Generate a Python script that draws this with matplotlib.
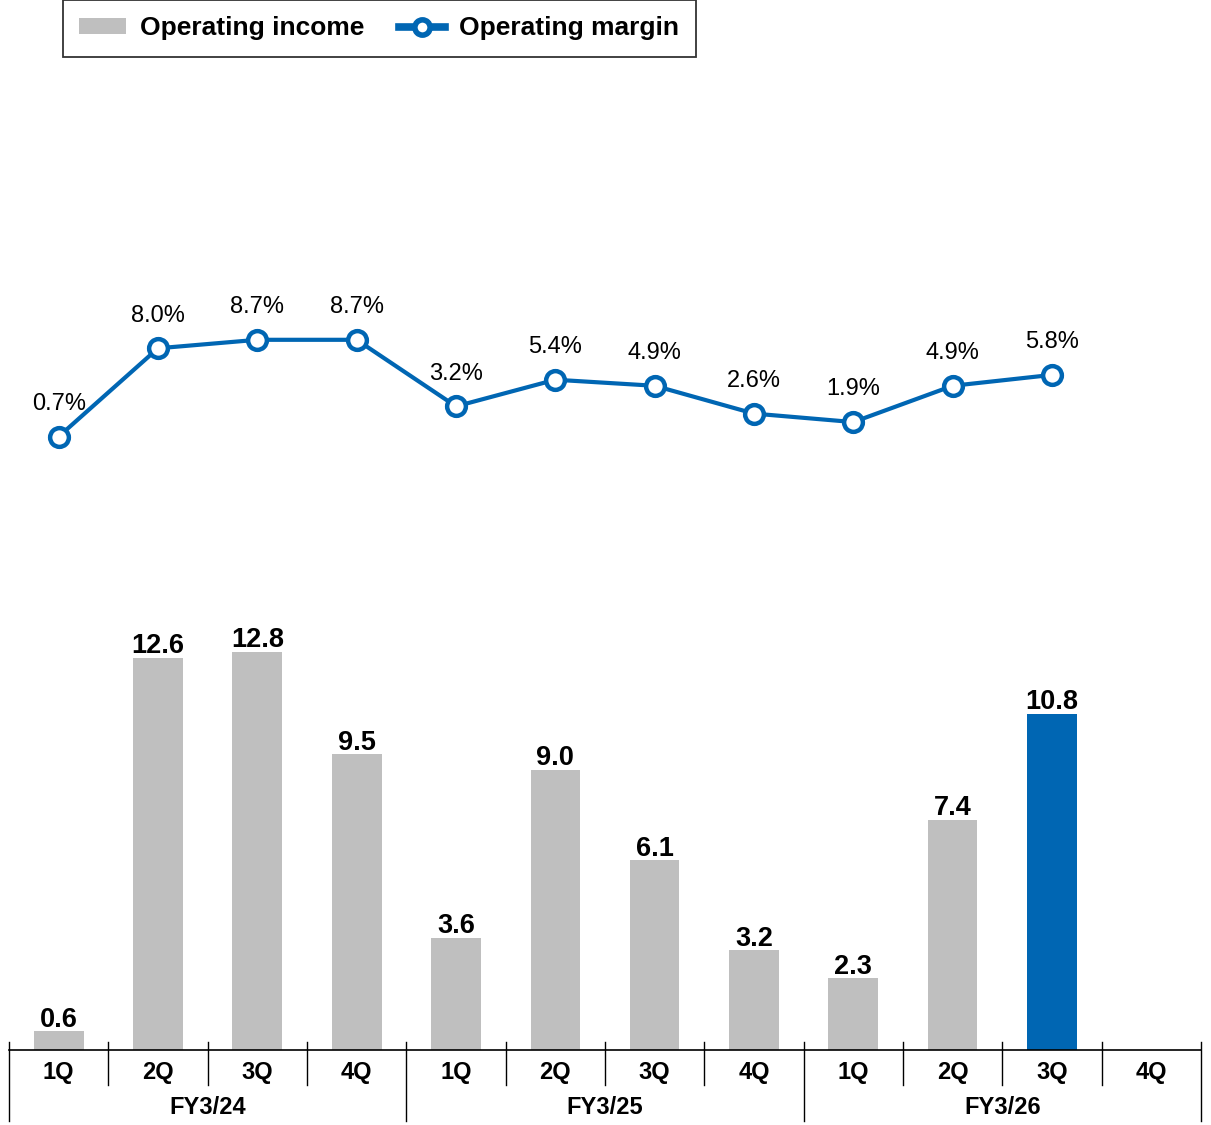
import numpy as np
import matplotlib
matplotlib.use('Agg')
from matplotlib import pyplot as plt
from matplotlib.patches import Patch
from matplotlib.lines import Line2D

plt.rcParams['font.family'] = ['Liberation Sans', 'DejaVu Sans']

# Data
quarters = ['1Q', '2Q', '3Q', '4Q'] * 3
fiscal_years = ['FY3/24', 'FY3/25', 'FY3/26']
income = [0.6, 12.6, 12.8, 9.5, 3.6, 9.0, 6.1, 3.2, 2.3, 7.4, 10.8, np.nan]
margin = [0.7, 8.0, 8.7, 8.7, 3.2, 5.4, 4.9, 2.6, 1.9, 4.9, 5.8, np.nan]
highlight = 10

gray = '#BFBFBF'
blue = '#0066B3'

fig = plt.figure(figsize=(12.11, 11.25), dpi=100)
ax = fig.add_axes([9 / 1211, 75 / 1125, 1192 / 1211, 980 / 1125])
ax2 = ax.twinx()

x = np.arange(len(quarters))
colors = [blue if i == highlight else gray for i in x]
ax.bar(x, income, width=0.5, color=colors)
ax.set_xlim(-0.5, len(quarters) - 0.5)
ax.set_ylim(0, 31.5)

for i, v in enumerate(income):
    if np.isnan(v):
        continue
    ax.annotate(f'{v:.1f}', (i, v), xytext=(0, -1), textcoords='offset points',
                ha='center', va='bottom', fontsize=19.5, fontweight='bold')

# margin line
ax2.plot(x, margin, color=blue, lw=3, marker='o', ms=13.5, mew=3.2,
         mfc='white', mec=blue)
ax2.set_ylim(-50, 31)
for i, v in enumerate(margin):
    if np.isnan(v):
        continue
    ax2.annotate(f'{v:.1f}%', (i, v), xytext=(0, 23.5), textcoords='offset points',
                 ha='center', va='center', fontsize=17)

# axis styling
for a in (ax, ax2):
    a.set_xticks([])
    a.set_yticks([])
    for side in ('top', 'right', 'left'):
        a.spines[side].set_visible(False)
ax2.spines['bottom'].set_visible(False)
ax.spines['bottom'].set_linewidth(1.2)

# category separators and labels
trans = ax.get_xaxis_transform()
for k in range(len(quarters) + 1):
    low = -0.072 if k % 4 == 0 else -0.036
    ax.plot([k - 0.5, k - 0.5], [0.008, low], transform=trans,
            color='black', lw=1, clip_on=False)
for i, q in enumerate(quarters):
    ax.text(i, -0.0225, q, transform=trans, ha='center', va='center',
            fontsize=17, fontweight='bold')
for j, fy in enumerate(fiscal_years):
    ax.text(4 * j + 1.5, -0.0585, fy, transform=trans, ha='center', va='center',
            fontsize=17, fontweight='bold')

# legend
handles = [Patch(facecolor=gray, edgecolor='none'),
           Line2D([], [], color=blue, lw=5.5, marker='o', ms=11, mew=4,
                  mfc='white', mec=blue)]
leg = fig.legend(handles, ['Operating income', 'Operating margin'],
                 loc='upper left', bbox_to_anchor=(63 / 1211, 1.0), ncol=2,
                 frameon=True, fancybox=False, edgecolor='black',
                 prop={'size': 19, 'weight': 'bold'},
                 handlelength=1.75, handleheight=0.5, handletextpad=0.55,
                 columnspacing=1.3, borderpad=0.62, borderaxespad=0)
leg.get_frame().set_linewidth(1.3)

fig.savefig('out.png', dpi=100)
